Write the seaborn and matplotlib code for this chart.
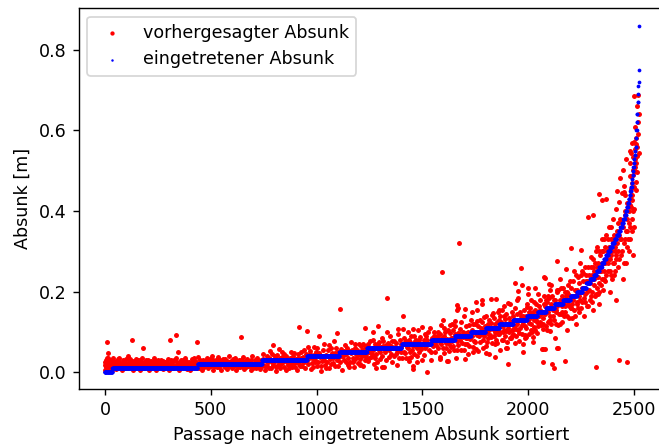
import numpy as np
import pandas as pd
import seaborn as sns
import matplotlib
matplotlib.use("Agg")
import matplotlib.pyplot as plt

# eingetretener Absunk: measured levels [m] and the sorted rank where each level ends
blue_levels = [0.0,.01,.02,.03,.04,.05,.06,.07,.08,.09,.10,.11,.12,.13,.14,.15,.16,.17,.18,.19,
               .20,.21,.22,.23,.24,.25,.26,.27,.28,.29,.30,.31,.32,.33,.34,.35,.36,.37,.38,.39,
               .40,.41,.42,.43,.44,.45,.46,.47,.48,.49,.50,.51,.52,.53,.54,.55,.56,.58,.60,.62,
               .64,.67,.69,.71,.72,.75,.86]
blue_ends = [38,439,742,954,1107,1236,1400,1540,1650,1725,1795,1860,1925,1990,2040,2080,2120,2160,2195,2225,
             2250,2270,2287,2305,2318,2330,2342,2352,2362,2372,2382,2392,2402,2412,2422,2430,2438,2444,2450,2456,
             2460,2465,2469,2473,2477,2480,2483,2485,2487,2489,2491,2493,2495,2497,2499,2501,2503,2505,2507,2509,
             2511,2513,2514,2515,2516,2517,2518]

# vorhergesagter Absunk as (rank, value [m])
red_a = [(3,.006),(6,.018),(8,.03),(10,.012),(13,.074),(14,.024),(17,.048),(18,.036),(22,.008),(25,.02),(28,.03),(33,.013),(38,.004),
(40,.025),(44,.034),(50,.016),(55,.008),(60,.028),(66,.02),(72,.036),(78,.012),(84,.005),(90,.024),(96,.017),(102,.032),(108,.009),
(112,.04),(118,.022),(124,.014),(130,.027),(133,.079),(138,.006),(144,.019),(150,.033),(156,.012),(162,.025),(168,.004),(174,.017),
(180,.036),(182,.06),(186,.011),(192,.024),(198,.031),(204,.015),(210,.006),(216,.022),(222,.028),(228,.012),(234,.034),(240,.018),
(246,.005),(252,.026),(258,.013),(264,.021),(270,.03),(276,.008),(282,.017),(288,.025),(294,.012),(300,.033),(306,.004),(309,.08),
(312,.02),(318,.027),(324,.011),(330,.016),(336,.093),(338,.035),(344,.024),(350,.05),(352,.006),(358,.018),(364,.029),(370,.012),
(376,.022),(382,.036),(388,.008),(394,.016),(400,.026),(406,.004),(412,.032),(418,.013),(424,.021),(430,.028),(436,.009),(439,.075),
(442,.038),(448,.017),(454,.025),(460,.005),(466,.03),(472,.013),(478,.02),(484,.035),(490,.009),(496,.026),(502,.016),(508,.041),
(514,.006),(520,.023),(526,.031),(532,.012),(538,.037),(544,.019),(550,.005),(556,.027),(562,.014),(568,.033),(574,.021),(580,.008),
(586,.04),(592,.016),(598,.028),(604,.011),(610,.024),(616,.034),(622,.004),(628,.018),(634,.03),(640,.012),(645,.088),(648,.024),
(654,.037),(660,.007),(666,.02),(672,.032),(678,.014),(684,.026),(690,.005),(696,.04),(702,.018),(708,.029),(714,.011),(720,.035),
(726,.022),(732,.007),(738,.03),(744,.015),
(15,.014),(31,.022),(47,.011),(63,.032),(81,.02),(99,.01),(115,.03),(147,.022),(171,.03),(195,.014),(219,.012),(243,.027),(267,.016),
(291,.019),(315,.03),(347,.013),(373,.03),(397,.02),(421,.034),(445,.011),(469,.024),(499,.033),(523,.014),(547,.029),(571,.012),
(601,.021),(625,.027),(657,.016),(681,.02),(705,.012),(735,.021)]
red_a2 = [(5,.026),(12,.034),(20,.016),(27,.01),(35,.028),(42,.018),(48,.028),(53,.021),(58,.014),(69,.026),(75,.018),(87,.03),(93,.012),
(105,.022),(110,.016),(121,.032),(127,.019),(135,.012),(141,.028),(153,.02),(159,.03),(165,.014),(177,.024),(189,.018),(201,.024),(207,.03),
(213,.014),(225,.02),(231,.025),(237,.012),(249,.018),(255,.03),(261,.024),(273,.019),(279,.027),(285,.012),(297,.024),(303,.016),(321,.022),
(327,.03),(333,.012),(341,.02),(355,.025),(361,.014),(367,.021),(379,.015),(385,.028),(391,.023),(403,.014),(409,.02),(415,.026),(427,.016),
(433,.024),(451,.03),(457,.016),(463,.022),(475,.028),(481,.014),(487,.024),(493,.016),(505,.024),(511,.03),(517,.015),(529,.021),(535,.026),
(541,.012),(553,.022),(559,.032),(565,.019),(577,.028),(583,.014),(589,.024),(595,.02),(607,.032),(613,.016),(619,.025),(631,.012),(637,.022),
(643,.03),(651,.014),(663,.028),(669,.012),(675,.022),(687,.016),(693,.03),(699,.01),(711,.022),(717,.018),(723,.012),(729,.028),(741,.02),(747,.032)]
red_b = [(750,.045),(756,.004),(762,.028),(768,.016),(774,.036),(780,.052),(786,.01),(792,.024),(797,.067),(803,.04),(808,.002),(813,.03),
(818,.018),(824,.058),(830,.011),(836,.038),(842,.025),(848,.046),(854,.006),(860,.033),(866,.017),(872,.028),(878,.05),(884,.012),
(890,.04),(896,.022),(902,.032),(908,.005),(914,.044),(918,.111),(922,.015),(928,.036),(934,.026),(940,.055),(946,.011),(950,.03),
(954,.102),(958,.062),(962,.02),(968,.045),(974,.008),(980,.035),(986,.063),(992,.024),(998,.05),(1004,.014),(1010,.089),(1016,.038),
(1022,.002),(1028,.028),(1034,.07),(1040,.018),(1046,.042),(1052,.055),(1058,.01),(1064,.033),(1070,.06),(1076,.023),(1082,.078),
(1088,.047),(1095,.098),(1100,.015),(1106,.037),(1110,.156),(1115,.057),(1122,.006),(1128,.03),(1134,.068),(1140,.044),(1146,.018),
(1152,.052),(1158,.025),(1164,.075),(1170,.036),(1176,.012),(1182,.06),(1188,.046),(1194,.022),(1200,.07),(1206,.033),(1212,.054),
(1218,.015),(1224,.042),(1230,.11),(1234,.065),(1240,.028),(1246,.05),(1252,.078),(1258,.038),(1264,.06),(1270,.02),(1276,.07),
(1282,.046),(1288,.114),(1294,.056),(1300,.032),(1306,.084),(1312,.064),(1318,.012),(1324,.05),(1333,.183),(1336,.072),(1342,.038),
(1348,.09),(1354,.026),(1360,.06),(1366,.076),(1372,.044),(1378,.018),(1384,.095),(1390,.056),(1396,.07),(1402,.034),(1407,.14),
(1412,.085),(1418,.048),(1424,.062),(1430,.1),(1436,.028),(1442,.074),(1448,.054),(1454,.016),(1460,.09),(1466,.066),(1472,.04),
(1478,.105),(1484,.08),(1490,.058),(1496,.03),
(1125,.04),(1178,.03),(1228,.06),(1268,.055),(1296,.075),(1328,.03),(1352,.066),(1376,.06),(1398,.05),(1422,.078),(1444,.038),(1468,.08),(1486,.066)]
red_b2 = [(753,.03),(759,.014),(765,.04),(771,.024),(777,.01),(783,.032),(789,.044),(795,.018),(800,.026),(806,.036),(811,.012),(816,.042),
(821,.024),(827,.034),(833,.02),(839,.05),(845,.012),(851,.03),(857,.04),(863,.024),(869,.01),(875,.036),(881,.02),(887,.03),(893,.048),(899,.012),
(905,.026),(911,.036),(917,.02),(925,.05),(931,.014),(937,.038),(943,.024),(949,.044),(955,.03),(965,.034),(971,.052),(977,.022),(983,.012),(989,.042),
(995,.03),(1001,.06),(1007,.024),(1013,.048),(1019,.016),(1025,.04),(1031,.054),(1037,.03),(1043,.01),(1049,.026),(1055,.04),(1061,.068),(1067,.02),
(1073,.048),(1079,.034),(1085,.014),(1091,.06),(1097,.03),(1103,.05),(1112,.024),(1118,.04),(1131,.052),(1137,.026),(1143,.06),(1149,.036),(1155,.012),
(1161,.048),(1167,.056),(1173,.024),(1179,.07),(1185,.034),(1191,.056),(1197,.042),(1203,.02),(1209,.066),(1215,.04),(1221,.07),(1227,.03),(1237,.048),
(1243,.07),(1249,.034),(1255,.058),(1261,.046),(1267,.08),(1273,.036),(1279,.06),(1285,.026),(1291,.07),(1297,.05),(1303,.062),(1309,.04),(1315,.076),
(1321,.055),(1327,.068),(1339,.056),(1345,.066),(1351,.046),(1357,.078),(1363,.04),(1369,.062),(1375,.072),(1381,.05),(1387,.036),(1393,.08),(1399,.062),
(1405,.07),(1411,.05),(1417,.074),(1423,.036),(1429,.06),(1435,.08),(1441,.05),(1447,.09),(1453,.064),(1459,.046),(1465,.076),(1471,.06),(1477,.07),
(1483,.05),(1489,.088),(1495,.068)]
red_c = [(1502,.07),(1507,.042),(1512,.095),(1518,.0),(1522,.08),(1528,.056),(1534,.11),(1540,.03),(1546,.075),(1552,.09),(1558,.05),
(1564,.067),(1570,.1),(1576,.082),(1582,.038),(1588,.116),(1592,.248),(1596,.06),(1602,.09),(1608,.073),(1614,.028),(1620,.105),
(1626,.052),(1632,.085),(1638,.12),(1644,.066),(1650,.094),(1656,.035),(1662,.078),(1668,.16),(1672,.321),(1676,.108),(1682,.056),
(1688,.088),(1694,.14),(1700,.07),(1706,.098),(1712,.044),(1718,.118),(1724,.082),(1730,.15),(1736,.062),(1742,.1),(1748,.075),
(1754,.128),(1760,.052),(1766,.09),(1772,.11),(1778,.17),(1784,.08),(1790,.136),(1796,.064),(1802,.098),(1808,.12),(1814,.045),
(1820,.088),(1826,.142),(1832,.108),(1838,.07),(1844,.182),(1850,.125),(1856,.094),(1862,.056),(1868,.114),(1874,.155),(1880,.08),
(1886,.132),(1892,.102),(1898,.06),(1901,.02),(1906,.12),(1912,.168),(1918,.09),(1924,.14),(1930,.108),(1936,.072),(1942,.128),
(1948,.185),(1954,.098),(1958,.15),(1962,.258),(1966,.116),(1972,.05),(1978,.135),(1984,.088),(1990,.162),(1996,.208),(2002,.122),
(2008,.105),(2014,.146),(2020,.075),(2026,.175),(2032,.13),(2038,.098),(2044,.195),(2050,.155),(2056,.118),
(1520,.068),(1580,.075),(1640,.085),(1670,.095),(1710,.085),(1750,.098),(1786,.105),(1818,.11),(1848,.1),(1878,.115),(1910,.125),
(1940,.108),(1970,.14),(2000,.15),(2024,.112),(2048,.14),(1600,.11),(1660,.055),(1738,.12),(1806,.085),(1864,.14),(1922,.105),(1982,.115)]
red_c2 = [(1505,.08),(1510,.06),(1515,.09),(1525,.1),(1531,.07),(1537,.05),(1543,.085),(1549,.064),(1555,.1),(1561,.078),(1567,.09),(1573,.06),(1579,.095),
(1585,.07),(1591,.085),(1598,.048),(1604,.1),(1610,.06),(1616,.082),(1622,.07),(1628,.098),(1634,.062),(1636,.078),(1642,.105),(1648,.054),(1654,.115),
(1658,.088),(1664,.068),(1666,.098),(1674,.08),(1680,.125),(1684,.072),(1690,.1),(1696,.056),(1702,.115),(1704,.085),(1708,.07),(1714,.1),(1720,.065),(1726,.13),
(1732,.09),(1734,.105),(1740,.078),(1744,.12),(1750,.058),(1756,.092),(1762,.115),(1768,.075),(1770,.13),(1774,.095),(1780,.125),(1782,.06),(1788,.09),(1792,.115),
(1798,.1),(1800,.14),(1804,.075),(1810,.105),(1812,.13),(1816,.092),(1822,.122),(1824,.072),(1828,.11),(1834,.09),(1836,.135),(1840,.1),(1842,.12),(1846,.08),
(1852,.11),(1854,.15),(1858,.095),(1860,.13),(1866,.1),(1870,.125),(1872,.08),(1876,.1),(1882,.14),(1884,.105),(1888,.09),(1890,.12),(1894,.145),(1896,.075),
(1900,.11),(1904,.135),(1908,.1),(1914,.085),(1916,.125),(1920,.15),(1926,.095),(1928,.115),(1932,.13),(1934,.16),(1938,.09),(1944,.12),(1946,.145),(1950,.105),
(1952,.078),(1956,.13),(1960,.11),(1964,.14),(1968,.095),(1974,.125),(1976,.155),(1980,.085),(1986,.14),(1988,.11),(1992,.17),(1994,.13),(1998,.095),(2004,.16),
(2006,.135),(2010,.12),(2012,.18),(2016,.1),(2018,.15),(2022,.13),(2028,.155),(2030,.105),(2034,.17),(2036,.125),(2040,.145),(2042,.115),(2046,.165),(2052,.125),
(2054,.18),(2058,.145)]
red_d = [(2061,.057),(2064,.058),(2066,.026),(2068,.135),(2072,.17),(2075,.058),(2078,.234),(2082,.148),(2086,.105),(2090,.19),(2094,.128),
(2098,.16),(2102,.215),(2107,.02),(2112,.14),(2116,.178),(2118,.011),(2122,.084),(2126,.155),(2130,.2),(2132,.277),(2133,.06),(2135,.059),
(2138,.118),(2142,.168),(2146,.232),(2150,.145),(2154,.19),(2158,.125),(2162,.21),(2166,.175),(2169,.027),(2172,.15),(2176,.255),(2180,.105),
(2184,.195),(2188,.165),(2192,.225),(2198,.307),(2202,.135),(2206,.18),(2210,.25),(2214,.155),(2218,.205),(2222,.12),(2226,.17),(2230,.235),
(2234,.19),(2238,.15),(2242,.27),(2245,.304),(2248,.21),(2252,.175),(2256,.245),(2260,.14),(2264,.195),(2268,.225),(2272,.165),(2276,.386),
(2280,.26),(2284,.205),(2288,.18),(2292,.285),(2296,.24),(2300,.155),(2304,.39),(2308,.215),(2312,.27),(2315,.012),(2318,.195),(2322,.31),
(2326,.235),(2328,.442),(2332,.17),(2336,.29),(2340,.25),(2345,.428),(2348,.205),(2352,.33),(2356,.27),(2360,.225),(2364,.431),(2368,.3),
(2372,.25),(2376,.36),(2380,.2),(2384,.28),(2388,.33),(2392,.23),(2396,.38),(2400,.27),(2404,.31),(2408,.18),(2411,.404),(2414,.35),
(2417,.45),(2420,.26),(2424,.423),(2425,.03),(2428,.33),(2430,.481),(2432,.29),(2436,.37),(2438,.445),(2441,.503),(2444,.23),(2447,.463),
(2448,.32),(2452,.39),(2453,.44),(2456,.528),(2458,.27),(2461,.025),(2464,.35),(2468,.42),(2470,.3),(2474,.548),(2475,.486),(2477,.518),
(2478,.33),(2480,.544),(2481,.439),(2483,.568),(2485,.427),(2486,.38),(2488,.503),(2490,.29),(2491,.535),(2494,.686),(2495,.36),(2497,.572),
(2499,.609),(2500,.553),(2502,.451),(2503,.566),(2505,.471),(2508,.537),(2511,.496),(2513,.688),(2514,.591),(2516,.641),(2518,.545),(2511,.661),
(2474,.431),(2477,.415),(2479,.454),(2497,.405),(2447,.448),(2438,.375),(2405,.25),(2385,.24),(2365,.34),(2342,.3),(2320,.26),(2298,.2),
(2274,.225),(2250,.25),(2224,.2),(2200,.16),(2178,.2),(2155,.165),(2128,.15),(2100,.13),(2080,.18),(2300,.26),(2325,.195),(2355,.23),(2375,.3),
(2400,.34),(2420,.3),(2440,.3),(2455,.35),(2470,.37),(2485,.47),(2500,.5),(2460,.42),(2430,.38),(2410,.29),(2385,.29),(2350,.27),(2330,.22),(2305,.23)]
red_d2 = [(2063,.15),(2067,.12),(2070,.19),(2074,.145),(2077,.165),(2080,.115),(2084,.175),(2088,.15),(2092,.125),(2096,.185),(2099,.14),(2104,.17),(2106,.12),
(2110,.19),(2114,.155),(2120,.13),(2124,.18),(2128,.12),(2134,.165),(2136,.205),(2140,.145),(2144,.18),(2148,.12),(2152,.21),(2156,.15),(2160,.18),(2164,.14),
(2168,.2),(2170,.165),(2174,.19),(2178,.14),(2182,.17),(2186,.215),(2190,.135),(2194,.19),(2196,.16),(2200,.21),(2204,.17),(2208,.225),(2212,.19),(2216,.14),
(2220,.24),(2224,.175),(2228,.205),(2232,.16),(2236,.22),(2240,.18),(2244,.24),(2246,.16),(2250,.2),(2254,.225),(2258,.185),(2262,.26),(2266,.175),(2270,.24),
(2274,.2),(2278,.165),(2282,.24),(2286,.22),(2290,.19),(2294,.26),(2298,.175),(2302,.28),(2306,.25),(2310,.19),(2314,.3),(2316,.235),(2320,.21),(2324,.27),
(2328,.3),(2330,.2),(2334,.25),(2338,.215),(2342,.27),(2344,.33),(2346,.23),(2350,.3),(2354,.25),(2358,.31),(2362,.24),(2366,.28),(2370,.33),(2374,.27),
(2378,.31),(2382,.25),(2386,.36),(2390,.3),(2394,.27),(2398,.33),(2402,.24),(2406,.3),(2412,.28),(2416,.32),(2418,.37),(2422,.34),(2426,.28),(2434,.33),(2442,.36),
(2446,.27),(2450,.33),(2454,.4),(2460,.31),(2462,.38),(2466,.33),(2472,.4),(2476,.36),(2482,.41),(2484,.35),(2487,.44),(2489,.4),(2492,.49),(2496,.46),(2498,.53),
(2501,.51),(2504,.58),(2506,.52),(2510,.56),(2512,.62)]
red_e = [(1660,.166),(1661,.154),(1700,.157),(1752,.173),(1780,.178),(1820,.182),(1754,.154),(1933,.222),(1969,.216),(1947,.201),(1997,.195),(2028,.208),
(2069,.237),(2096,.219),(2099,.204),(2130,.204),(1884,.165),(1903,.171),(1942,.179),(1832,.146),(1859,.154),(1652,.127),(1597,.129),(1628,.117),(1495,.113),
(1456,.108),(1408,.106),(1384,.106),(1264,.099),(1330,.099),(1267,.04),(1278,.011),(1307,.013),(1233,.038),(1205,.017),(1456,.007),(1471,.024),(1434,.035),
(1581,.032),(1620,.028),(1699,.032),(1735,.049),(1798,.048),(1840,.038),(1848,.071),(1892,.06),(1973,.069),(2020,.088),(2064,.108),(2099,.103),(1911,.084),(1981,.092)]

blue_y = np.repeat(blue_levels, np.diff([0] + blue_ends))
# ranks were read with a slightly coarse x scale; the factors tie them to the x ticks
blue = pd.DataFrame({"x": np.clip(np.arange(1, len(blue_y) + 1) * 1.0047 - 4.7, 0, None), "y": blue_y})
red = pd.DataFrame(red_a + red_a2 + red_b + red_b2 + red_c + red_c2 + red_d + red_d2 + red_e, columns=["x", "y"])
red["x"] = np.clip(red["x"] * 1.0047 - 4.7, 0, None)

sns.set_theme(style="ticks", rc={"font.family": "DejaVu Sans"})
plt.rcParams["font.family"] = ["DejaVu Sans"]
dpi = 126
fig = plt.figure(figsize=(659 / dpi, 447 / dpi), dpi=dpi)
ax = fig.add_axes([78.5 / 659, 1 - 389 / 447, 586 / 659, 381 / 447])
sns.scatterplot(data=red, x="x", y="y", ax=ax, color="red", s=8, linewidth=0, label="vorhergesagter Absunk", zorder=2)
sns.scatterplot(data=blue, x="x", y="y", ax=ax, color="blue", s=4.6, linewidth=0, label="eingetretener Absunk", zorder=3)
ax.set_xlim(-126, 2646)
ax.set_ylim(-0.042, 0.904)
ax.set_xticks([0, 500, 1000, 1500, 2000, 2500])
ax.set_yticks([0, .2, .4, .6, .8])
ax.set_xlabel("Passage nach eingetretenem Absunk sortiert", fontsize=10, color="black", labelpad=4)
ax.set_ylabel("Absunk [m]", fontsize=10, color="black", labelpad=4)
ax.tick_params(labelsize=10, length=3.5, width=0.8, color="black", labelcolor="black")
for s in ax.spines.values():
    s.set_visible(True); s.set_color("black"); s.set_linewidth(0.8)
leg = ax.legend(loc="upper left", fontsize=10, frameon=True)
leg.legend_handles[0].set_sizes([6])
leg.legend_handles[1].set_sizes([2])
for t in leg.get_texts():
    t.set_color("black")
fig.savefig("out.png", dpi=dpi)
